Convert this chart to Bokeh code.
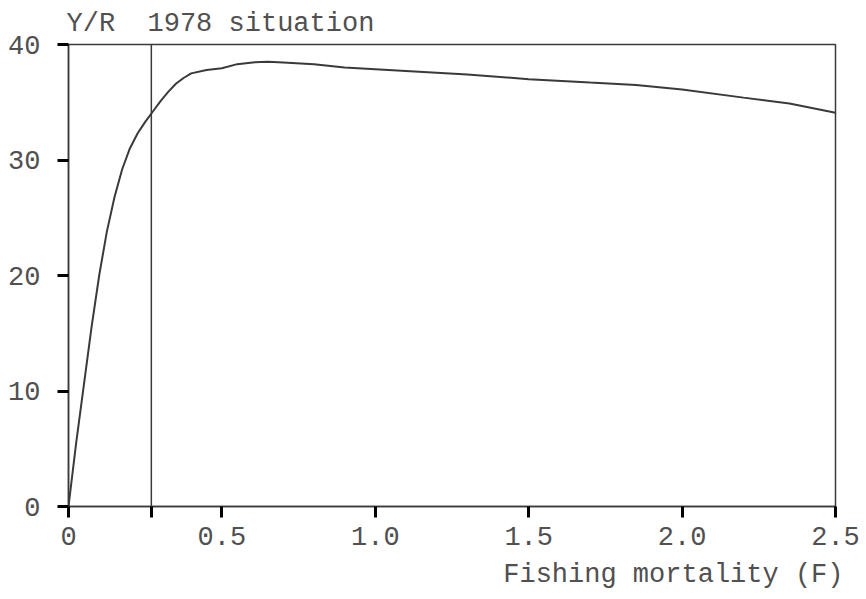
from bokeh.plotting import figure
from bokeh.models import Range1d, FixedTicker, Span, Title
from bokeh.embed import file_html
from bokeh.resources import INLINE

# Data
F_values = [0, 0.025, 0.05, 0.075, 0.1, 0.125, 0.15, 0.175, 0.2, 0.225, 0.25, 0.275, 0.3, 0.325,
            0.35, 0.375, 0.4, 0.45, 0.5, 0.55, 0.6, 0.65, 0.7, 0.8, 0.9, 1.1, 1.3, 1.5, 1.7,
            1.85, 2.0, 2.2, 2.35, 2.5]
YR_values = [0, 5.5, 10.5, 15.5, 20, 23.8, 26.8, 29.2, 31.0, 32.3, 33.3, 34.2, 35.1, 35.9,
             36.6, 37.1, 37.5, 37.8, 37.95, 38.3, 38.45, 38.5, 38.45, 38.3, 38.0, 37.7, 37.4,
             37.0, 36.7, 36.5, 36.1, 35.4, 34.9, 34.1]
situation_F = 0.27
x_ticks = [0, 0.5, 1.0, 1.5, 2.0, 2.5]
x_tick_labels = ["0", "0.5", "1.0", "1.5", "2.0", "2.5"]
y_ticks = [0, 10, 20, 30, 40]
x_title = "Fishing mortality (F)"
top_title = "Y/R\u00a0\u00a01978 situation"

FONT = "Liberation Mono"
FS = "27px"
LINE = "#3a3a3a"
TEXT = "#505050"

p = figure(width=866, height=599, output_backend="svg", toolbar_location=None,
           x_range=Range1d(0, 2.5), y_range=Range1d(0, 40),
           min_border_left=68, min_border_right=31, min_border_top=44, min_border_bottom=93)
p.background_fill_color = "white"
p.border_fill_color = "white"
p.outline_line_color = LINE
p.outline_line_width = 1.5
p.grid.visible = False

p.xaxis.ticker = FixedTicker(ticks=x_ticks + [situation_F])
overrides = {t: l for t, l in zip(x_ticks, x_tick_labels)}
overrides[situation_F] = ""
p.xaxis.major_label_overrides = overrides
p.yaxis.ticker = FixedTicker(ticks=y_ticks)

for ax in (p.xaxis[0], p.yaxis[0]):
    ax.axis_line_color = LINE
    ax.axis_line_width = 1.5
    ax.major_tick_in = 0
    ax.major_tick_out = 11
    ax.major_tick_line_color = "#000000"
    ax.major_tick_line_alpha = 1.0
    ax.major_tick_line_width = 3
    ax.minor_tick_line_color = None
    ax.major_label_text_font = FONT
    ax.major_label_text_font_size = FS
    ax.major_label_text_color = TEXT
    ax.major_label_text_font_style = "normal"
p.xaxis.major_label_standoff = 9
p.yaxis.major_label_standoff = 17

p.line(F_values, YR_values, line_color=LINE, line_width=2)
p.add_layout(Span(location=situation_F, dimension="height", line_color=LINE, line_width=1.5))

p.title.text = top_title
p.title.align = "left"
p.title.offset = -2
p.title.text_font = FONT
p.title.text_font_size = FS
p.title.text_color = TEXT
p.title.text_font_style = "normal"
p.title.standoff = 12

p.add_layout(Title(text=x_title, align="right", offset=-8, text_font=FONT, text_font_size=FS,
                   text_color=TEXT, text_font_style="normal", standoff=20), "below")

open("out.html", "w").write(file_html(p, INLINE))
